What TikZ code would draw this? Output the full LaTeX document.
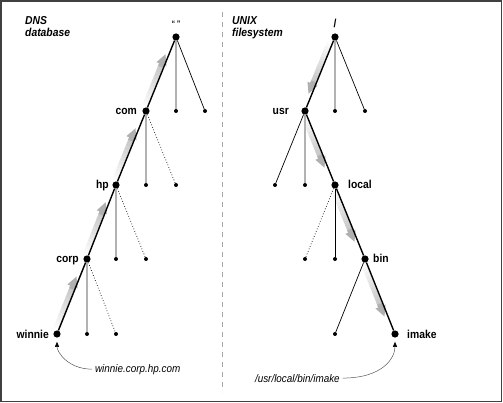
\documentclass[tikz,border=0pt]{standalone}
\usepackage{fontspec}
\setmainfont{Liberation Sans}[FakeStretch=0.9]
\usetikzlibrary{calc,arrows.meta}
\pgfdeclarelayer{bg}
\pgfsetlayers{bg,main}
\newcommand\guide[2]{%
  \begin{pgfonlayer}{bg}%
  \foreach \gi in {0,...,11}{%
    \pgfmathsetmacro\gstart{0.08+0.05*\gi}%
    \pgfmathsetmacro\gend{0.08+0.05*(\gi+1)+0.005}%
    \pgfmathtruncatemacro\gcol{4+4*\gi}%
    \draw[band, gray!\gcol] ($(#1)!\gstart!(#2)+(-3.5,0)$) -- ($(#1)!\gend!(#2)+(-3.5,0)$);
  }%
  \draw[band, gray!62, -{Triangle[length=11pt,width=10pt]}] ($(#1)!0.6!(#2)+(-3.5,0)$) -- ($(#1)!0.77!(#2)+(-3.5,0)$);
  \end{pgfonlayer}%
}
\begin{document}
\begin{tikzpicture}[x=1pt,y=-1pt,
  big/.style={circle,fill=black,inner sep=0pt,minimum size=7.2pt},
  small/.style={circle,fill=black,inner sep=0pt,minimum size=4pt},
  lab/.style={font=\fontsize{11.5}{12}\selectfont\bfseries,inner sep=0pt},
  pathedge/.style={line width=1.4pt,black},
  greyedge/.style={line width=1.2pt,gray!60},
  thinedge/.style={line width=0.7pt,black},
  dotedge/.style={line width=0.7pt,black,dotted},
  band/.style={line width=5pt},
  annot/.style={line width=0.5pt,gray!70!black,-{Triangle[length=5pt,width=4pt,black]},shorten >=4pt},
  anntext/.style={font=\fontsize{11}{12}\selectfont\itshape,inner sep=0pt,outer sep=3pt},
  head/.style={font=\fontsize{11.5}{12.5}\selectfont\bfseries\itshape,inner sep=0pt,align=left,anchor=north west}
]
\useasboundingbox (0,0) rectangle (503,403);
\draw[line width=1.2pt,black!75] (1,1) rectangle (501.5,401.5);
\draw[gray!70,line width=0.8pt,dash pattern=on 5pt off 5pt] (222,12) -- (222,392);

% headings
\node[head] (h1) at (25,16) {DNS\\database};
\node[head] (h2) at (232,16) {UNIX\\filesystem};

% left tree
\node[big] (r1) at (176,37) {};
\node[big] (com) at (146,111) {};
\node[small] (r1a) at (176,111) {};
\node[small] (r1b) at (205,111) {};
\node[big] (hp) at (116,185) {};
\node[small] (coma) at (146,185) {};
\node[small] (comb) at (176,185) {};
\node[big] (corp) at (87,259) {};
\node[small] (hpa) at (116,259) {};
\node[small] (hpb) at (146,259) {};
\node[big] (win) at (57,334) {};
\node[small] (corpa) at (87,334) {};
\node[small] (corpb) at (116,334) {};

\node[inner sep=0pt,font=\fontsize{8}{8}\selectfont\bfseries,anchor=base] (r1L) at (176,27) {“\hspace{1.5pt}”};
\node[lab,anchor=base east] (comL) at (137,115) {com};
\node[lab,anchor=base east] (hpL) at (109,189) {hp};
\node[lab,anchor=base east] (corpL) at (79,263) {corp};
\node[lab,anchor=base east] (winL) at (49,338) {winnie};

\draw[pathedge] (r1) -- (com);
\draw[pathedge] (com) -- (hp);
\draw[pathedge] (hp) -- (corp);
\draw[pathedge] (corp) -- (win);
\draw[greyedge] (r1) -- (r1a);
\draw[thinedge] (r1) -- (r1b);
\draw[greyedge] (com) -- (coma);
\draw[dotedge] (com) -- (comb);
\draw[greyedge] (hp) -- (hpa);
\draw[dotedge] (hp) -- (hpb);
\draw[greyedge] (corp) -- (corpa);
\draw[dotedge] (corp) -- (corpb);

\guide{win}{corp}
\guide{corp}{hp}
\guide{hp}{com}
\guide{com}{r1}

\node[anntext,anchor=base west] (lblL) at (92,372) {winnie.corp.hp.com};
\draw[annot] (lblL.west) .. controls +(-24,0) and +(0,18) .. (win);

% right tree
\node[big] (r2) at (335,37) {};
\node[big] (usr) at (305,111) {};
\node[small] (r2a) at (335,111) {};
\node[small] (r2b) at (365,111) {};
\node[small] (usra) at (275,185) {};
\node[small] (usrb) at (305,185) {};
\node[big] (loc) at (335,185) {};
\node[small] (loca) at (305,259) {};
\node[small] (locb) at (335,259) {};
\node[big] (bin) at (365,259) {};
\node[small] (bina) at (335,334) {};
\node[big] (imk) at (395,334) {};

\node[lab,anchor=base] (r2L) at (335,28) {/};
\node[lab,anchor=base east] (usrL) at (289,115) {usr};
\node[lab,anchor=base west] (locL) at (348,189) {local};
\node[lab,anchor=base west] (binL) at (373,263) {bin};
\node[lab,anchor=base west] (imkL) at (407,338) {imake};

\draw[pathedge] (r2) -- (usr);
\draw[pathedge] (usr) -- (loc);
\draw[pathedge] (loc) -- (bin);
\draw[pathedge] (bin) -- (imk);
\draw[greyedge] (r2) -- (r2a);
\draw[thinedge] (r2) -- (r2b);
\draw[thinedge] (usr) -- (usra);
\draw[greyedge] (usr) -- (usrb);
\draw[dotedge] (loc) -- (loca);
\draw[thinedge] (loc) -- (locb);
\draw[thinedge] (bin) -- (bina);

\guide{r2}{usr}
\guide{usr}{loc}
\guide{loc}{bin}
\guide{bin}{imk}

\node[anntext,anchor=base west] (lblR) at (252,382) {/usr/local/bin/imake};
\draw[annot] (lblR.east) .. controls +(40,0) and +(0,24) .. (imk);
\end{tikzpicture}
\end{document}
